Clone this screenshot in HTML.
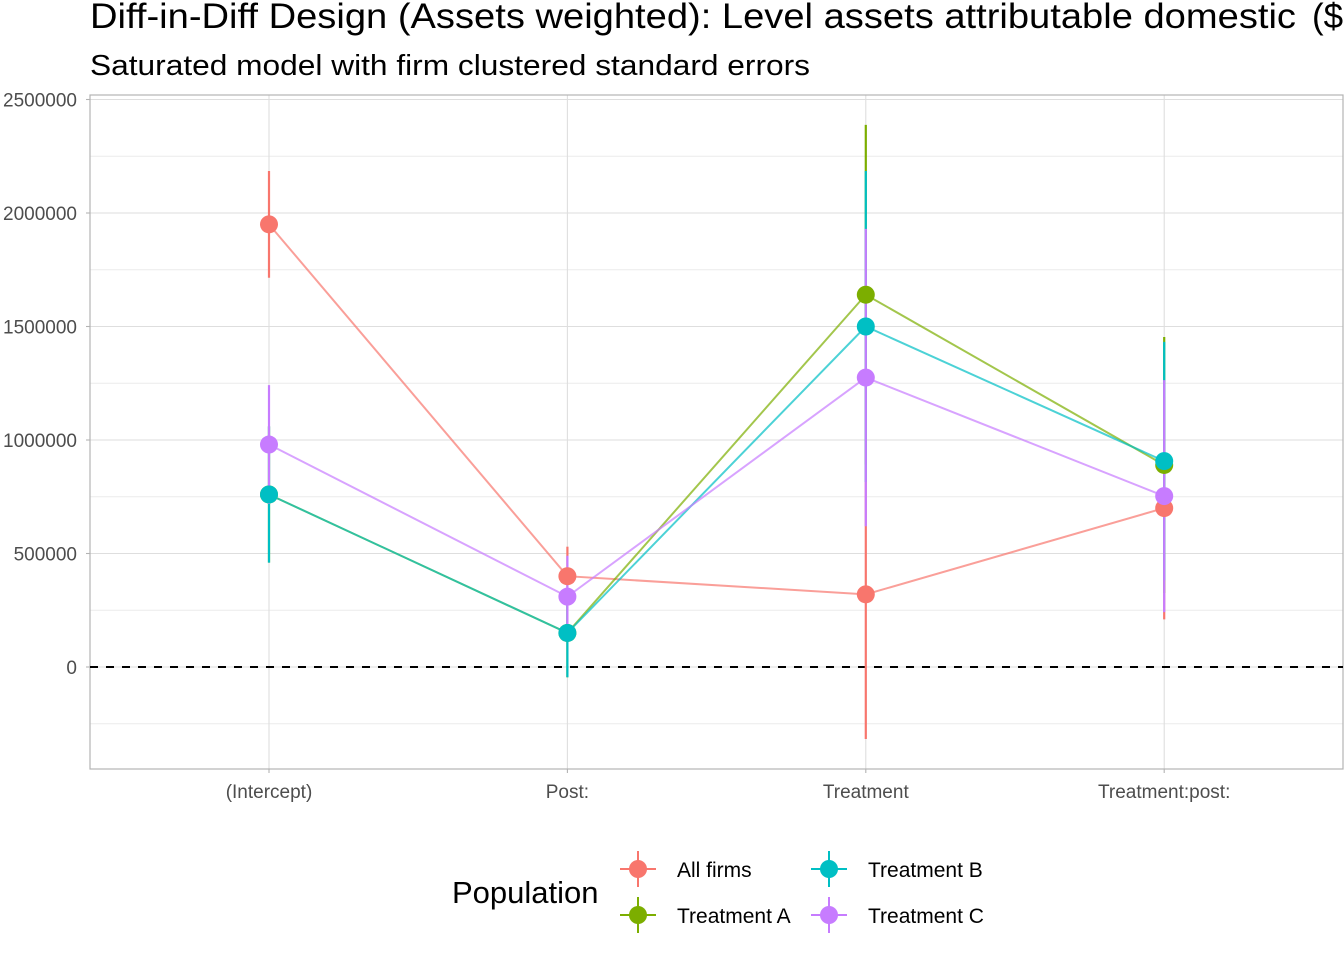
<!DOCTYPE html>
<html><head><meta charset="utf-8"><style>
body{margin:0;background:#fff;}
svg{display:block;font-family:"Liberation Sans",Arial,sans-serif;}
</style></head><body>
<svg id="chart" width="1344" height="960" viewBox="0 0 1344 960" xmlns="http://www.w3.org/2000/svg">
<text x="90" y="28" font-size="35" fill="#000" textLength="1206" lengthAdjust="spacingAndGlyphs">Diff-in-Diff Design (Assets weighted): Level assets attributable domestic</text>
<text x="1312" y="28" font-size="35" fill="#000">($</text>
<text x="90" y="75" font-size="29" fill="#000" textLength="720" lengthAdjust="spacingAndGlyphs">Saturated model with firm clustered standard errors</text>
<g id="grid"></g>
<g id="axes"></g>
<g id="marks"></g>
<g id="legend"></g>
</svg>
<script>
const categories = ["(Intercept)", "Post:", "Treatment", "Treatment:post:"];
const seriesNames = ["All firms", "Treatment A", "Treatment B", "Treatment C"];
const seriesColors = ["#F8766D", "#7CAE00", "#00BFC4", "#C77CFF"];
const allFirms = [1950000, 400000, 320000, 700000];
const allFirmsSE = [235000, 130000, 637000, 490000];
const treatmentA = [760000, 150000, 1640000, 890000];
const treatmentASE = [300000, 195000, 748000, 564000];
const treatmentB = [760000, 150000, 1500000, 907000];
const treatmentBSE = [300000, 195000, 685000, 525000];
const treatmentC = [980000, 310000, 1275000, 753000];
const treatmentCSE = [262000, 180000, 655000, 511000];
const yTicks = [0, 500000, 1000000, 1500000, 2000000, 2500000];
const yMinorTicks = [-250000, 250000, 750000, 1250000, 1750000, 2250000];

const NS = "http://www.w3.org/2000/svg";
const PL = 90, PR = 1343, PT = 95, PB = 769;
const y = v => 667 - v * (113.5 / 500000);
const x = i => 269 + i * 298.4;
function mk(tag, attrs, parent, text) {
  const e = document.createElementNS(NS, tag);
  for (const k in attrs) e.setAttribute(k, attrs[k]);
  if (text !== undefined) e.textContent = text;
  parent.appendChild(e);
  return e;
}
const grid = document.getElementById('grid');
const axes = document.getElementById('axes');
const marks = document.getElementById('marks');
const legend = document.getElementById('legend');

yMinorTicks.forEach(v => {
  const l = mk('line', {x1: PL, x2: PR, y1: y(v), y2: y(v), stroke: '#ebebeb', 'stroke-width': 1}, grid);
  
  
});
yTicks.forEach(v => {
  const l = mk('line', {x1: PL, x2: PR, y1: y(v), y2: y(v), stroke: '#dedede', 'stroke-width': 1.1}, grid);
  
  
  const t = mk('line', {x1: PL - 4, x2: PL, y1: y(v), y2: y(v), stroke: '#b3b3b3', 'stroke-width': 1.1}, axes);
  
  
  const tx = mk('text', {x: PL - 13, y: y(v) + 7, 'text-anchor': 'end', 'font-size': 19, fill: '#4d4d4d'}, axes, String(v));
  
  
});
categories.forEach((c, i) => {
  const l = mk('line', {x1: x(i), x2: x(i), y1: PT, y2: PB, stroke: '#dedede', 'stroke-width': 1.1}, grid);
  
  
  const t = mk('line', {x1: x(i), x2: x(i), y1: PB, y2: PB + 4, stroke: '#b3b3b3', 'stroke-width': 1.1}, axes);
  
  
  const tx = mk('text', {x: x(i), y: PB + 29, 'text-anchor': 'middle', 'font-size': 19, fill: '#4d4d4d'}, axes, c);
  
  
});
const border = mk('rect', {x: PL, y: PT, width: PR - PL, height: PB - PT, fill: 'none', stroke: '#b3b3b3', 'stroke-width': 1.2}, axes);


const zl = mk('line', {x1: PL, x2: PR, y1: y(0), y2: y(0), stroke: '#000', 'stroke-width': 2, 'stroke-dasharray': '8,8'}, marks);



const series = [[allFirms, allFirmsSE], [treatmentA, treatmentASE], [treatmentB, treatmentBSE], [treatmentC, treatmentCSE]];
series.forEach((s, k) => {
  const g = mk('g', {}, marks);
  
  
  const pts = s[0].map((v, i) => x(i) + ',' + y(v)).join(' ');
  const pl = mk('polyline', {points: pts, fill: 'none', stroke: seriesColors[k], 'stroke-width': 2, 'stroke-opacity': 0.7}, g);
  
  
  s[0].forEach((v, i) => {
    const e = mk('line', {x1: x(i), x2: x(i), y1: y(v + s[1][i]), y2: y(v - s[1][i]), stroke: seriesColors[k], 'stroke-width': 2.2}, g);
    
    
  });
});
series.forEach((s, k) => {
  s[0].forEach((v, i) => {
    const c = mk('circle', {cx: x(i), cy: y(v), r: 9, fill: seriesColors[k]}, marks);
    
    
  });
});

const lt = mk('text', {x: 452, y: 903, 'font-size': 31, fill: '#000'}, legend, 'Population');


const lpos = [[638, 869], [638, 915], [829, 869], [829, 915]];
seriesNames.forEach((n, k) => {
  const g = mk('g', {}, legend);
  
  
  const [lx, ly] = lpos[k];
  mk('line', {x1: lx - 18, x2: lx + 18, y1: ly, y2: ly, stroke: seriesColors[k], 'stroke-width': 2}, g);
  mk('line', {x1: lx, x2: lx, y1: ly - 18, y2: ly + 18, stroke: seriesColors[k], 'stroke-width': 2}, g);
  mk('circle', {cx: lx, cy: ly, r: 9, fill: seriesColors[k]}, g);
  mk('text', {x: lx + 39, y: ly + 8, 'font-size': 21, fill: '#000'}, g, n);
});
</script>
</body></html>
